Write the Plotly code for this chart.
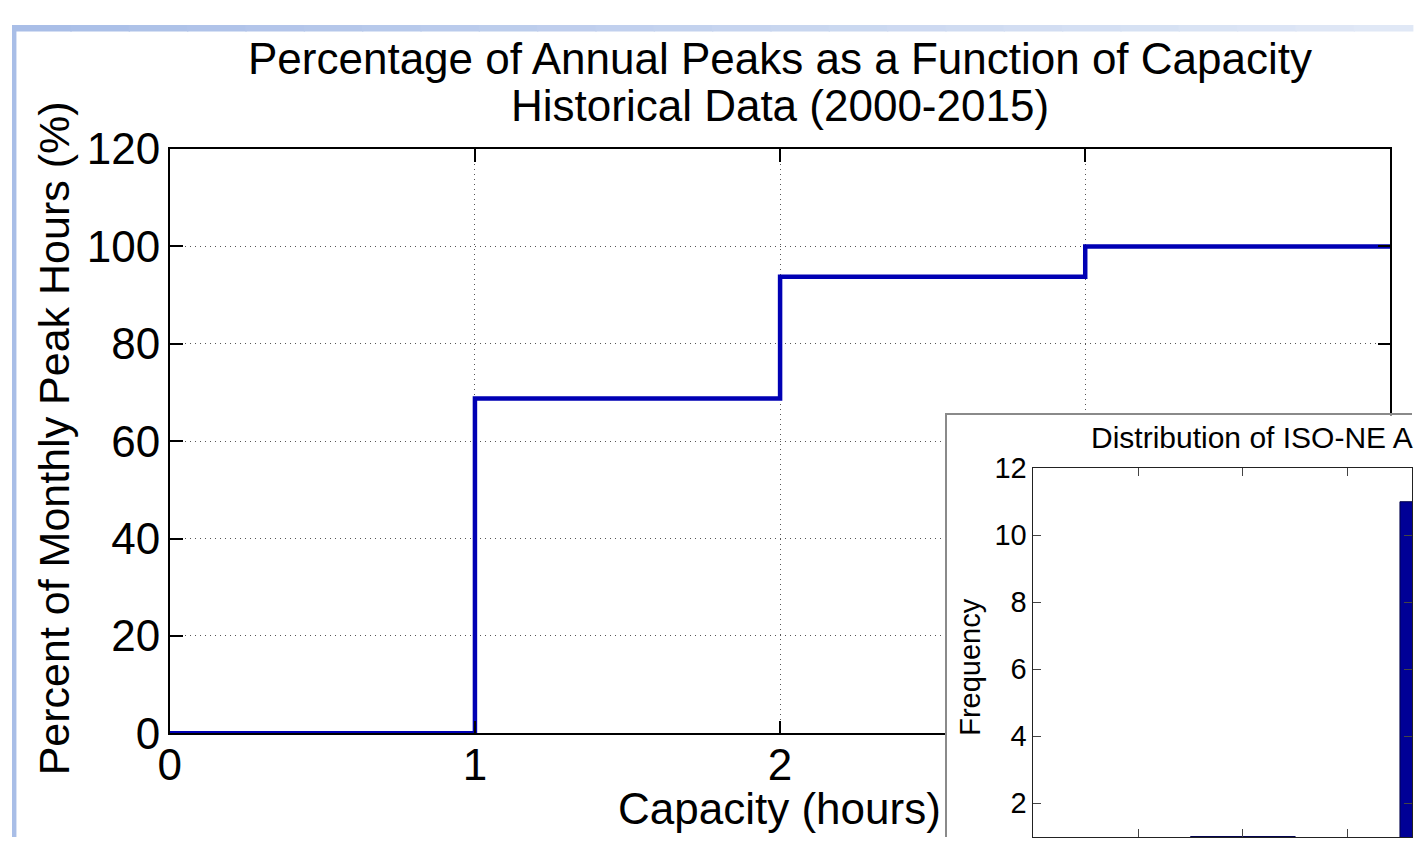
import plotly.graph_objects as go

W, H = 1424, 861

# ---- data ----
capacity_hours = [0, 1, 2, 3, 4]
pct_monthly_peak = [0, 68.75, 93.75, 100, 100]
main_xticks = [0, 1, 2, 3, 4]
main_yticks = [0, 20, 40, 60, 80, 100, 120]

hist_bins = [2, 4]
hist_freq = [1, 11]
inset_xticks = [1, 2, 3]
inset_yticks = [2, 4, 6, 8, 10, 12]

title_line1 = "Percentage of Annual Peaks as a Function of Capacity"
title_line2 = "Historical Data (2000-2015)"
x_title = "Capacity (hours)"
y_title = "Percent of Monthly Peak Hours (%)"
inset_title = "Distribution of ISO-NE A"
inset_y_title = "Frequency"

FONT = "Liberation Sans, Arial, sans-serif"


def px(x):
    return x / W


def py(y):
    return 1 - y / H


fig = go.Figure()

# main step curve
fig.add_trace(go.Scatter(
    x=capacity_hours, y=pct_monthly_peak, mode="lines",
    line=dict(color="#0000b4", width=4.5, shape="hv"),
    xaxis="x", yaxis="y", hoverinfo="skip"))

# empty trace for the inset frame subplot
fig.add_trace(go.Scatter(x=[], y=[], xaxis="x2", yaxis="y2", hoverinfo="skip"))

# inset histogram
fig.add_trace(go.Bar(
    x=hist_bins, y=hist_freq, width=1,
    marker=dict(color="#000096", line=dict(color="#00004a", width=1)),
    xaxis="x3", yaxis="y3", hoverinfo="skip"))

axis_common = dict(
    showline=True, linecolor="black", linewidth=1.5,
    ticks="inside", tickcolor="black", tickwidth=1.5,
    zeroline=False, tickfont=dict(family=FONT, size=44, color="black"),
)

inset_px_per_unit_y = 35.5
inset_px_per_unit_x = 106.5

fig.update_layout(
    width=W, height=H,
    margin=dict(l=0, r=0, t=0, b=0),
    paper_bgcolor="white", plot_bgcolor="white",
    showlegend=False,
    xaxis=dict(
        domain=[px(160.5), px(1402)], anchor="y", range=[0, 4],
        tickvals=main_xticks, ticklen=13, mirror="allticks",
        showgrid=True, gridcolor="#555555", gridwidth=1, griddash="1px,4px",
        ticklabelstandoff=-8, **axis_common),
    yaxis=dict(
        domain=[py(751), py(131.5)], anchor="x", range=[0, 120],
        tickvals=main_yticks, ticklen=13, mirror="allticks",
        showgrid=True, gridcolor="#555555", gridwidth=1, griddash="1px,4px",
        ticklabelstandoff=-1, **axis_common),
    xaxis2=dict(
        domain=[px(951), 1], anchor="y2", range=[0, 1], side="top",
        showline=True, linecolor="#8a8a8a", linewidth=1.5,
        showgrid=False, zeroline=False, showticklabels=False, ticks=""),
    yaxis2=dict(
        domain=[0, py(414)], anchor="x2", range=[0, 1], side="left",
        showline=True, linecolor="#8a8a8a", linewidth=1.5,
        showgrid=False, zeroline=False, showticklabels=False, ticks=""),
    xaxis3=dict(
        domain=[px(1039), 1], anchor="y3",
        range=[0, (W - 1039) / inset_px_per_unit_x],
        tickvals=inset_xticks, showticklabels=False,
        showline=True, linecolor="#222222", linewidth=1, mirror="allticks",
        ticks="inside", ticklen=8, tickcolor="#444444", tickwidth=1,
        showgrid=False, zeroline=False),
    yaxis3=dict(
        domain=[0, py(470)], anchor="x3",
        range=[12 - (H - 470) / inset_px_per_unit_y, 12],
        tickvals=inset_yticks,
        showline=True, linecolor="#222222", linewidth=1, mirror="allticks",
        ticks="inside", ticklen=8, tickcolor="#444444", tickwidth=1,
        showgrid=False, zeroline=False, ticklabelstandoff=0,
        tickfont=dict(family=FONT, size=29, color="black")),
)

annotations = [
    dict(text=title_line1, x=px(781), y=py(36), font=dict(size=44)),
    dict(text=title_line2, x=px(781), y=py(85), font=dict(size=44)),
    dict(text=x_title, x=px(781), y=py(831), font=dict(size=44)),
    dict(text=y_title, x=px(43), y=py(438), font=dict(size=43), textangle=-90),
    dict(text=inset_title, x=px(1095), y=py(437), xanchor="left", font=dict(size=30)),
    dict(text=inset_y_title, x=px(975), y=py(681), font=dict(size=29), textangle=-90),
]
for a in annotations:
    a.setdefault("xanchor", "center")
    a.update(xref="paper", yref="paper", yanchor="middle", showarrow=False)
    a["font"].update(family=FONT, color="black")
fig.update_layout(annotations=annotations)

# slide background strips (decoration)
shapes = [dict(type="rect", xref="paper", yref="paper", x0=0, x1=px(4.5), y0=0, y1=1,
               fillcolor="#a9bee7", line=dict(width=0), layer="below")]
c0 = (0xa9, 0xbe, 0xe7)
c1 = (0xe0, 0xe8, 0xf6)
n = 24
for i in range(n):
    t = i / (n - 1)
    col = "rgb(%d,%d,%d)" % tuple(round(a + (b - a) * t) for a, b in zip(c0, c1))
    shapes.append(dict(type="rect", xref="paper", yref="paper",
                       x0=i / n, x1=(i + 1) / n + 0.001, y0=py(7), y1=1,
                       fillcolor=col, line=dict(width=0), layer="below"))
fig.update_layout(shapes=shapes)

fig.write_html("out.html")
